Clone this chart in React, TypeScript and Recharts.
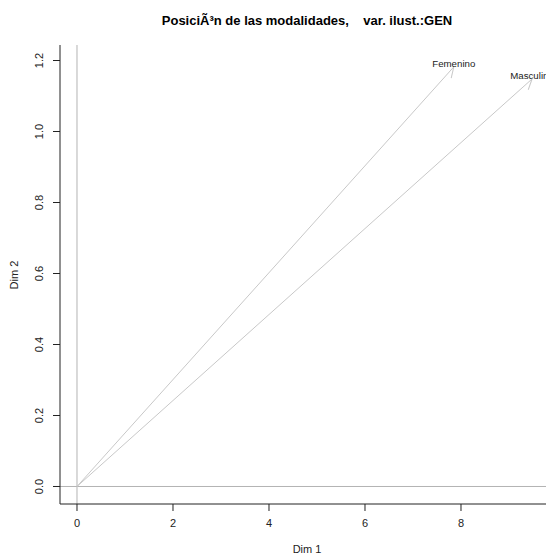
import React from 'react';
import { LineChart, Line, XAxis, YAxis, ReferenceLine } from 'recharts';

// modalidades de la variable ilustrativa GEN
const categories = ['Femenino', 'Masculino'];
const dim1 = [7.85, 9.48];
const dim2 = [1.182, 1.148];

const xTicks = [0, 2, 4, 6, 8];
const yTicks = [0, 0.2, 0.4, 0.6, 0.8, 1.0, 1.2];

const FONT = '"Liberation Sans", Arial, sans-serif';
const ARROW = '#c8c8c8';
const INK = '#222';

// each modality is a segment from the origin to its coordinates
const segments = categories.map((name, i) => ({
  name,
  data: [
    { x: 0, y: 0 },
    { x: dim1[i], y: dim2[i] },
  ],
}));

const YTick = ({ x, y, payload }: any) => (
  <text
    x={x}
    y={y}
    transform={`rotate(-90, ${x}, ${y})`}
    textAnchor="middle"
    fontSize={11}
    fontFamily={FONT}
    fill={INK}
  >
    {Number(payload.value).toFixed(1)}
  </text>
);

const EndLabel = (name: string) => (props: any) => {
  const { x, y, index } = props;
  if (index !== 1) return null;
  return (
    <text x={x} y={y} textAnchor="middle" fontSize={9.7} fontFamily={FONT} fill={INK}>
      {name}
    </text>
  );
};

export default function App() {
  return (
    <div style={{ position: 'absolute', left: 0, top: 0, width: 546, height: 555, background: '#fff' }}>
      <svg width={0} height={0} style={{ position: 'absolute' }}>
        <defs>
          <marker
            id="arrowHead"
            markerWidth={20}
            markerHeight={20}
            refX={0}
            refY={0}
            orient="auto"
            markerUnits="userSpaceOnUse"
            overflow="visible"
          >
            <path d="M0,0 L-10,5.5" stroke={ARROW} strokeWidth={1} fill="none" />
          </marker>
        </defs>
      </svg>
      <LineChart width={546} height={555} margin={{ top: 45, right: 0, bottom: 0, left: 0 }}>
        <XAxis
          xAxisId="top"
          orientation="top"
          type="number"
          domain={[0, 1]}
          height={0}
          tick={false}
          tickLine={false}
          axisLine={{ stroke: INK }}
        />
        <XAxis
          dataKey="x"
          type="number"
          domain={[-0.354, 9.771]}
          ticks={xTicks}
          allowDataOverflow
          height={51}
          tickSize={7}
          tickMargin={8}
          axisLine={{ stroke: INK }}
          tickLine={{ stroke: INK }}
          tick={{ fontSize: 11, fontFamily: FONT, fill: INK }}
        />
        <YAxis
          dataKey="y"
          type="number"
          domain={[-0.0493, 1.2437]}
          ticks={yTicks}
          allowDataOverflow
          width={60}
          tickSize={7}
          tickMargin={9.5}
          axisLine={{ stroke: INK }}
          tickLine={{ stroke: INK }}
          tick={<YTick />}
        />
        <ReferenceLine x={0} stroke="#b4b4b4" strokeWidth={1} />
        <ReferenceLine y={0} stroke="#b4b4b4" strokeWidth={1} />
        {segments.map((s) => (
          <Line
            key={s.name}
            data={s.data}
            dataKey="y"
            type="linear"
            stroke={ARROW}
            strokeWidth={1}
            dot={false}
            activeDot={false}
            markerEnd="url(#arrowHead)"
            label={EndLabel(s.name)}
            isAnimationActive={false}
          />
        ))}
      </LineChart>
      <svg
        width={546}
        height={555}
        style={{ position: 'absolute', left: 0, top: 0, pointerEvents: 'none' }}
        fontFamily={FONT}
      >
        <text x={307} y={24.5} textAnchor="middle" fontSize={13} fontWeight="bold" fill="#000" style={{ whiteSpace: 'pre' }}>
          {'PosiciÃ³n de las modalidades,    var. ilust.:GEN'}
        </text>
        <text x={307} y={553} textAnchor="middle" fontSize={11} fill={INK}>
          Dim 1
        </text>
        <text x={18} y={275} textAnchor="middle" fontSize={11} fill={INK} transform="rotate(-90, 18, 275)">
          Dim 2
        </text>
      </svg>
    </div>
  );
}
